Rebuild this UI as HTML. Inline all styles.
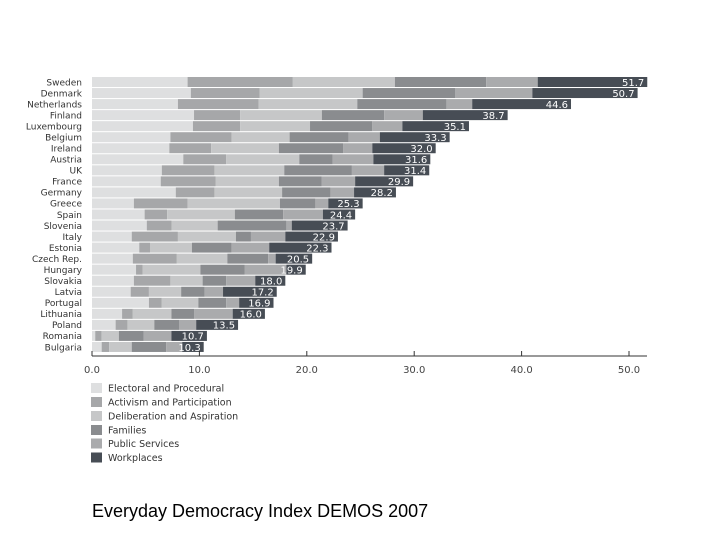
<!DOCTYPE html>
<html><head><meta charset="utf-8"><style>
body{margin:0;background:#fff;width:728px;height:546px;overflow:hidden}
svg{display:block;font-family:"DejaVu Sans","Liberation Sans",sans-serif}
</style></head><body>
<svg id="chart" width="728" height="546" viewBox="0 0 728 546"></svg>
<script>
const countries=["Sweden","Denmark","Netherlands","Finland","Luxembourg","Belgium","Ireland","Austria","UK","France","Germany","Greece","Spain","Slovenia","Italy","Estonia","Czech Rep.","Hungary","Slovakia","Latvia","Portugal","Lithuania","Poland","Romania","Bulgaria"];
const electoral=[8.9,9.2,8.0,9.5,9.4,7.3,7.2,8.5,6.5,6.4,7.8,3.9,4.9,5.1,3.7,4.4,3.8,4.1,3.9,3.6,5.3,2.8,2.2,0.3,0.9];
const activism=[9.8,6.4,7.5,4.3,4.4,5.7,3.9,4.0,4.9,5.1,3.6,5.0,2.1,2.3,4.3,1.0,4.1,0.6,3.4,1.7,1.2,1.0,1.1,0.6,0.7];
const deliberation=[9.5,9.6,9.2,7.6,6.5,5.4,6.3,6.8,6.5,5.9,6.3,8.6,6.3,4.3,5.4,3.9,4.7,5.4,3.0,3.0,3.4,3.6,2.5,1.6,2.1];
const families=[8.5,8.6,8.3,5.8,5.8,5.5,6.0,3.1,6.3,4.0,4.5,3.3,4.5,6.4,1.4,3.7,3.8,4.1,2.2,2.2,2.6,2.1,2.3,2.3,3.2];
const publicServices=[4.8,7.2,2.4,3.6,2.8,2.9,2.7,3.8,3.0,3.1,2.2,1.2,3.7,0.5,3.2,3.5,0.7,3.9,2.7,1.7,1.2,3.6,1.6,2.6,1.5];
const workplaces=[10.2,9.8,9.2,7.9,6.2,6.5,5.9,5.3,4.2,5.4,3.9,3.2,3.0,5.2,4.9,5.8,3.4,1.8,2.8,5.0,3.2,3.0,3.9,3.3,2.0];
const totals=["51.7","50.7","44.6","38.7","35.1","33.3","32.0","31.6","31.4","29.9","28.2","25.3","24.4","23.7","22.9","22.3","20.5","19.9","18.0","17.2","16.9","16.0","13.5","10.7","10.3"];
const xTicks=[0,10,20,30,40,50];
const seriesNames=["Electoral and Procedural","Activism and Participation","Deliberation and Aspiration","Families","Public Services","Workplaces"];
const seriesColors=["#dedfe0","#a6a7a9","#c6c7c8","#8a8c8f","#aaabad","#474d55"];
const series=[electoral,activism,deliberation,families,publicServices,workplaces];
const keys=["electoral","activism","deliberation","families","public-services","workplaces"];

const svg=document.getElementById('chart');
const NS="http://www.w3.org/2000/svg";
const x0=92,kx=10.74;
const X=v=>x0+v*kx;
const Y=i=>77+i*11.04;
const bh=10;
function mk(t,a,p){const e=document.createElementNS(NS,t);for(const k in a)e.setAttribute(k,a[k]);(p||svg).appendChild(e);return e;}

countries.forEach((c,i)=>{
  const g=mk('g',{});
  
  
  const lab=mk('text',{x:82,y:Y(i)+bh/2+3.3,'text-anchor':'end','font-size':'9','font-family':'DejaVu Sans, sans-serif',fill:'#333'},g);
  lab.textContent=c;
  
  
  let acc=0;
  series.forEach((s,j)=>{
    const r=mk('rect',{x:X(acc),y:Y(i),width:Math.max(0,s[i]*kx),height:bh,fill:seriesColors[j]},g);
    
    
    acc+=s[i];
  });
  const t=mk('text',{x:X(acc)-3,y:Y(i)+bh/2+3.8,'text-anchor':'end','font-size':'10',fill:'#fff'},g);
  t.textContent=totals[i];
  
  
});

const ax=mk('line',{x1:x0,x2:647,y1:356,y2:356,stroke:'#333','stroke-width':1});


xTicks.forEach(v=>{
  const tk=mk('line',{x1:X(v),x2:X(v),y1:351,y2:356,stroke:'#333','stroke-width':1});
  
  
  const tl=mk('text',{x:X(v),y:373,'text-anchor':'middle','font-size':'10',fill:'#444'});
  tl.textContent=v.toFixed(1);
  
  
});

const lg=mk('g',{});


const ly=[383,397,411,425,438.5,452.5];
seriesNames.forEach((n,j)=>{
  const r=mk('rect',{x:91,y:ly[j],width:11,height:10,fill:seriesColors[j]},lg);
  
  
  const t=mk('text',{x:108,y:ly[j]+8.5,'font-size':'9.5',fill:'#333'},lg);
  t.textContent=n;
  
  
});

const title=mk('text',{x:92,y:517,'font-size':'18','font-family':'Liberation Sans, sans-serif',fill:'#000'});
title.textContent="Everyday Democracy Index DEMOS 2007";


</script>
</body></html>
